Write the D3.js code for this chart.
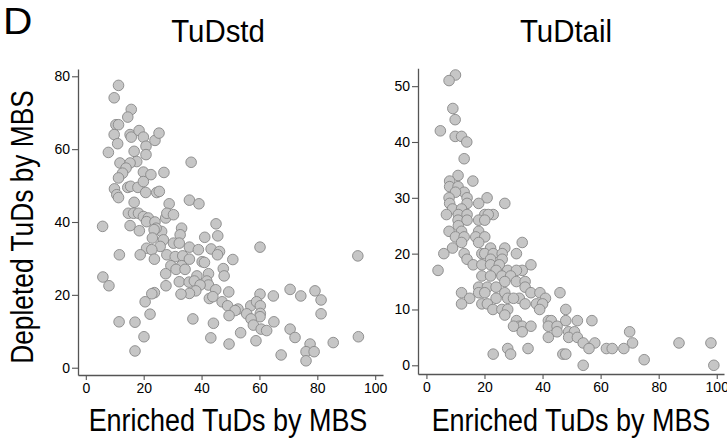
<!DOCTYPE html>
<html>
<head>
<meta charset="utf-8">
<script src="https://cdn.jsdelivr.net/npm/d3@7"></script>
<style>
  body { margin: 0; background: #fff; }
  text { font-family: 'Liberation Sans', Arial, sans-serif; fill: #000; }
</style>
</head>
<body>
<svg id="chart" width="727" height="441"></svg>
<script>
// TuDstd panel: enriched (x) vs depleted (y)
const stdEnriched = [11.3,9.8,15.7,14.5,10.4,11.3,9.8,15.3,15.7,18.4,19.9,11,20.8,23.9,25.3,7.8,16.7,20.8,11.8,17.6,
  15.3,36.4,13.9,12.7,11.3,19.9,22.5,27,14.5,15.5,18,19.9,9.9,10.7,11.3,20.7,24.5,25.4,35.8,39.1,
  16.7,28.8,14.7,16.5,18.2,19.9,21.6,21,23.9,27.6,28,30.3,15.3,18.5,5.8,26.2,24.3,23.6,33.1,32.6,
  45,45.6,41.1,23,26.8,30.3,32.3,25.7,21,22.8,35.8,38.9,43.3,46.2,45.5,60.2,18.8,11.6,23.7,28,
  30.9,33.5,35.8,40.2,41,50.8,29.4,33.1,31.2,34.3,47.5,27.6,38.4,42.4,47.8,5.9,32.3,35.7,37.5,41.8,
  42.4,39.5,27.7,8,44.9,38,35.8,32.9,49.4,60.2,64.8,70.6,74.3,79.2,81.3,23.7,22.8,20.5,42.7,43.9,
  47.1,49,52.6,51.6,57,59,60.3,55.6,60.3,60.2,49.5,81.3,22.2,57.1,11.5,17,37,44.1,57.9,65,
  60.6,62.5,70.6,53.5,72.3,20.1,43.2,58.8,49.5,85.5,77.5,76.1,78.9,67.5,76.1,17,94,94.2];
const stdDepleted = [77.5,74.1,70.9,68.8,66.7,66.7,64,64,63.3,65.1,63.3,61.5,60.8,62.4,64.4,59.1,59.4,58.5,56.2,56.6,
  56.2,56.4,54.8,53.4,52.1,53.7,53,53.6,49.5,49.8,49.5,51.1,49.1,47.5,46.7,48.1,48.1,48.4,46,45,
  45.4,45,42.4,42.4,42.4,41.5,41.1,40.1,40,41.1,42.4,42,39,37.6,38.8,37.4,38.3,37.9,38.3,36.5,
  39.5,36.2,35.8,35.6,35.1,34.2,34.2,33.3,32.8,32.4,33.1,32.4,32.6,31.9,31,33.1,31,31,29.8,31,
  30.5,30.7,29.8,29.1,28.9,29.7,28,28,27,27,27.2,25.8,25.2,25.8,25.2,24.9,23.6,23.5,23.8,23.8,
  22.7,22.7,22.5,22.5,21.4,21.1,20.4,20.2,20.8,20.2,19.7,21.5,19.7,21.1,18.6,20.6,20.3,18.1,19,19.5,
  18.1,17,16.1,15.7,17,18.1,17,14.8,14.9,14,14.3,14.8,14.7,13.4,12.6,12.5,13.4,12.2,11.7,12.6,
  10.6,10.2,10.6,9.6,8.3,8.5,8.2,7.4,6.5,6.9,6.5,4.4,4.4,3.5,1.9,4.6,30.7,8.5];

// TuDtail panel
const tailEnriched = [10,7.8,9.1,9.9,4.8,9.9,12.1,13.9,13,10.9,8,16,8,10.9,13,10,7.8,14,20.9,8,
  14,18,27,9,12.1,6.9,11,14,20.1,23,21.3,10.9,14,18,20.1,11,7.8,12.1,18,17,
  20.1,10,13,18,12.1,33,9,22.1,27,6,13,19.1,20.1,23,26.1,31,14,22.1,26.1,16.1,
  19.1,22.1,25.1,36,4,24,28,33,31,19.1,22.1,26,29,27,31,34,18,21,24,34,
  18,12.1,20.1,27,36,39.1,46,24,28,32,14.9,30,41,12.1,19.1,21,34,37.9,40,22.9,
  26,28,39,48,27,42,43,48,52,57,31,32,33,36,42,45,30,33,45,49,
  51,70,42,49,52,54,58,71,87,98,35,28,56,62,64,68,23,29,47,48,
  75,54,99];
const tailDepleted = [52,51,46,44,42,41,41,40,37,34,33,33,32,32,31,31,30,30,30,29,
  29,29,29,28,28,27,27,27,27,27,27,26,26,26,26,25,24,24,24,23,
  23,23,23,22,22,22,21,21,21,20,20,20,20,20,20,20,19,19,19,18,
  18,18,18,18,17,17,17,17,17,16,16,16,16,15,15,15,14,14,14,14,
  13,13,13,13,13,13,13,12,12,12,12,12,12,11,11,11,11,11,11,10,
  10,10,10,10,9,8,8,8,8,8,8,7,7,7,7,7,7,6,6,6,
  6,6,5,5,5,4,4,4,4,4,3,3,3,3,3,3,2,2,2,2,
  1,0,0];

const panelTitles = ['TuDstd', 'TuDtail'];
const xTicks = [0, 20, 40, 60, 80, 100];
const stdYTicks = [0, 20, 40, 60, 80];
const tailYTicks = [0, 10, 20, 30, 40, 50];
const xLabel = 'Enriched TuDs by MBS';
const yLabel = 'Depleted TuDs by MBS';
const panelLetter = 'D';

const panels = [
  {
    title: panelTitles[0],
    xs: stdEnriched, ys: stdDepleted, yTicks: stdYTicks,
    xDomain: [-2.7, 102.7], yDomain: [-2, 82],
    left: 78, right: 383, top: 69, bottom: 375,
    titleX: 218, labelX: 228
  },
  {
    title: panelTitles[1],
    xs: tailEnriched, ys: tailDepleted, yTicks: tailYTicks,
    xDomain: [-2.9, 102.5], yDomain: [-1.56, 53.2],
    left: 418, right: 724, top: 68.3, bottom: 374,
    titleX: 566, labelX: 571
  }
];

const AXIS_COLOR = '#555';
const DOT_FILL = '#c6c6c6';
const DOT_STROKE = '#888';

document.addEventListener('DOMContentLoaded', () => {
  const svg = d3.select('#chart');

  svg.append('text')
    .attr('transform', 'translate(3, 34) scale(1.1, 1)')
    .attr('font-size', 37)
    .text(panelLetter);

  svg.append('text')
    .attr('transform', 'translate(33, 227) rotate(-90) scale(0.85, 1)')
    .attr('text-anchor', 'middle')
    .attr('font-size', 31)
    .text(yLabel);

  panels.forEach(p => {
    const xScale = d3.scaleLinear().domain(p.xDomain).range([p.left, p.right]);
    const yScale = d3.scaleLinear().domain(p.yDomain).range([p.bottom, p.top]);

    const g = svg.append('g');

    // title
    g.append('text')
      .attr('transform', `translate(${p.titleX}, 42) scale(0.92, 1)`)
      .attr('text-anchor', 'middle')
      .attr('font-size', 32)
      .text(p.title);

    // x label
    g.append('text')
      .attr('transform', `translate(${p.labelX}, 431) scale(0.87, 1)`)
      .attr('text-anchor', 'middle')
      .attr('font-size', 31)
      .text(xLabel);

    // Axes
    const xAxis = d3.axisBottom(xScale)
      .tickValues(xTicks)
      .tickSize(5)
      .tickSizeOuter(0)
      .tickPadding(3);
    const yAxis = d3.axisLeft(yScale)
      .tickValues(p.yTicks)
      .tickSize(6)
      .tickSizeOuter(0)
      .tickPadding(2);

    const gx = g.append('g')
      .attr('transform', `translate(0, ${p.bottom})`)
      .call(xAxis);
    const gy = g.append('g')
      .attr('transform', `translate(${p.left}, 0)`)
      .call(yAxis);

    [gx, gy].forEach(a => {
      a.select('.domain').attr('stroke', AXIS_COLOR).attr('stroke-width', 1.3);
      a.selectAll('.tick line').attr('stroke', AXIS_COLOR).attr('stroke-width', 1.1);
      a.selectAll('.tick text')
        .attr('fill', '#000')
        .attr('font-size', 14)
        .attr('font-family', "'Liberation Sans', Arial, sans-serif");
    });

    // Points
    g.append('g')
      .selectAll('circle')
      .data(p.xs.map((x, i) => ({ x: x, y: p.ys[i] })))
      .enter()
      .append('circle')
      .attr('cx', d => xScale(d.x))
      .attr('cy', d => yScale(d.y))
      .attr('r', 5.3)
      .attr('fill', DOT_FILL)
      .attr('stroke', DOT_STROKE)
      .attr('stroke-width', 0.9);
  });
});
</script>
</body>
</html>
